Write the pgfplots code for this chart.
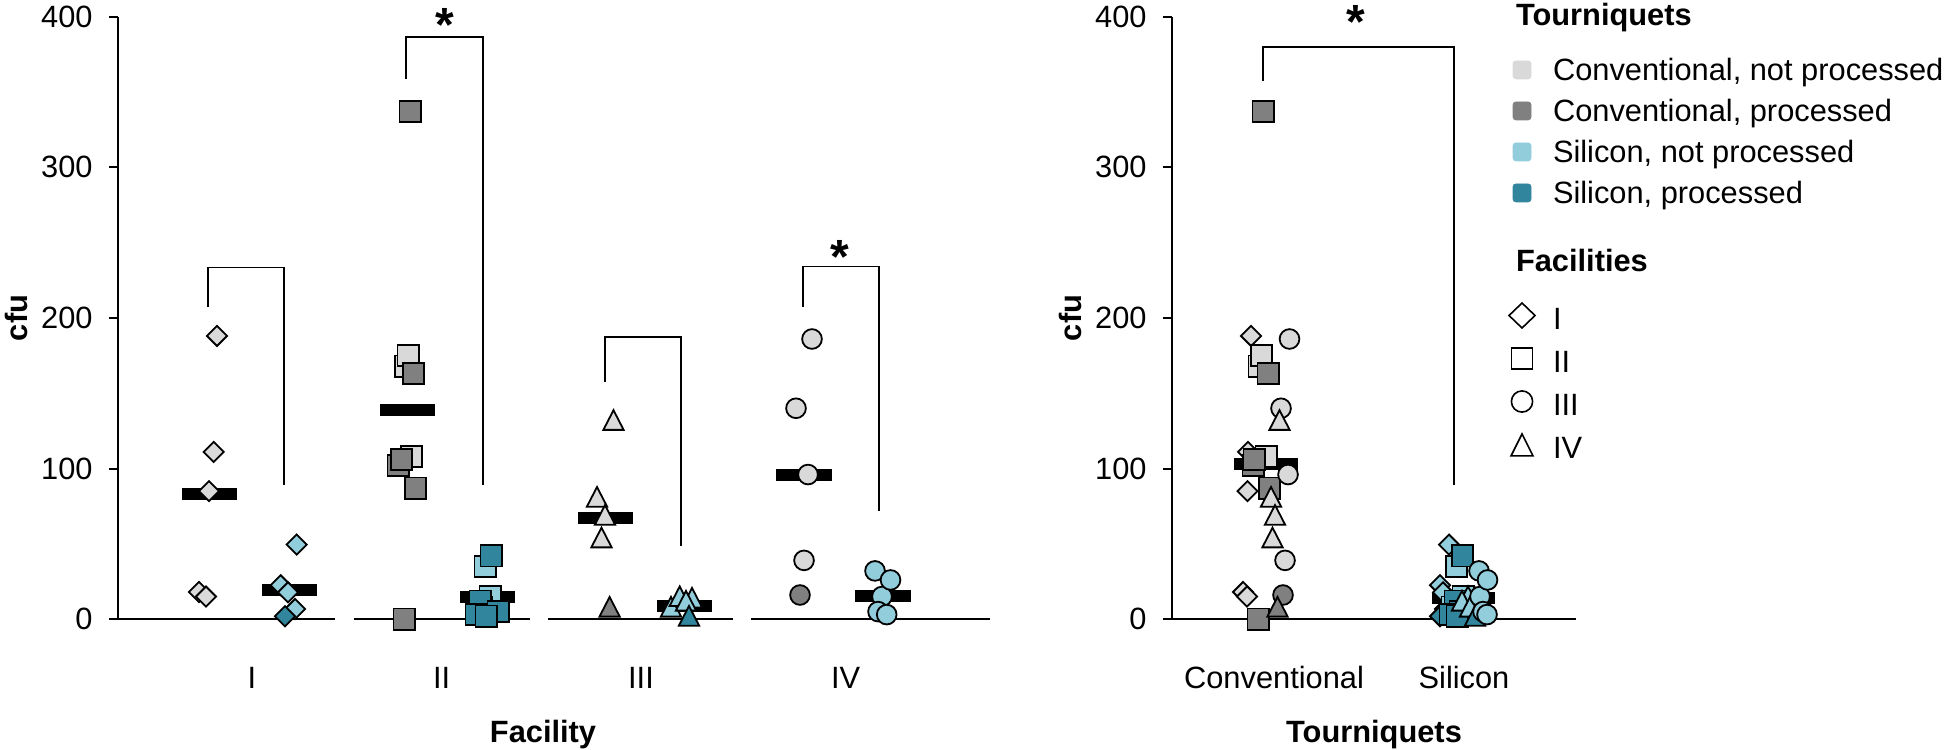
\documentclass[border=0pt]{standalone}
\usepackage{pgfplots}
\pgfplotsset{compat=1.18}
\usepackage{fontspec}
\setmainfont{Liberation Sans}
\definecolor{cLG}{HTML}{D9D9D9}
\definecolor{cDG}{HTML}{808080}
\definecolor{cLB}{HTML}{92CDDC}
\definecolor{cTE}{HTML}{31859C}
\newcommand\fs{\fontsize{15.4pt}{18pt}\selectfont}
\pgfplotsset{
 dia/.style={only marks, mark=square*, mark size=3.55pt, mark options={rotate=45, draw=black, line width=0.9pt, fill=#1}},
 sq/.style={only marks, mark=square*, mark size=5.3pt, mark options={draw=black, line width=0.9pt, fill=#1}},
 ci/.style={only marks, mark=*, mark size=4.93pt, mark options={draw=black, line width=0.9pt, fill=#1}},
 tri/.style={only marks, mark=triangle*, mark size=5.86pt, mark options={yscale=1.12, draw=black, line width=0.9pt, fill=#1}},
 med/.style={black, line width=6pt, line cap=butt, no marks},
 brk/.style={black, line width=0.9pt, no marks},
 base/.style={black, line width=1pt, no marks},
 panel/.style={
   x=0.5pt, y=0.753pt, ymin=0, ymax=400, clip=false,
   axis x line=bottom, axis y line=left,
   axis line style={-, line width=1pt, black},
   ytick={0,100,200,300,400}, tick align=outside, major tick length=4.5pt,
   ytick style={line width=1pt, black}, xtick style={draw=none},
   font=\fs, tick label style={font=\fs},
   /pgf/number format/assume math mode=true,
   yticklabel style={anchor=east, inner sep=0pt, xshift=-8pt},
   xticklabel style={anchor=base, inner sep=0pt, yshift=-30.2pt},
   ylabel={\bfseries cfu},
 },
 fill sq/.style={legend image code/.code={\path[draw=none,fill=none] (-7pt,-9pt) rectangle (7pt,9pt); \fill[#1, rounded corners=1.5pt] (-4.5pt,-4.5pt) rectangle (4.5pt,4.5pt);}},
}
\begin{document}
\begin{tikzpicture}
\useasboundingbox (0,0) rectangle (973pt,-374.5pt);
% ---------------- left panel ----------------
\begin{axis}[panel, xmin=118, xmax=990,
  at={(59pt,-309.55pt)}, anchor=south west,
  x axis line style={draw=none},
  xtick={252,441.7,641,845.6}, xticklabels={I,II,III,IV},
  xlabel={\bfseries Facility},
  xlabel style={at={(axis cs:543,0)}, anchor=base, inner sep=0pt, yshift=-61.45pt},
  ylabel style={at={(axis description cs:-0.11617,0.5)}, anchor=center},
]
\addplot[base] coordinates {(118,0) (335,0)};
\addplot[base] coordinates {(354,0) (530,0)};
\addplot[base] coordinates {(548,0) (733,0)};
\addplot[base] coordinates {(751,0) (990,0)};
% brackets
\addplot[brk] coordinates {(208,207) (208,233.5) (284,233.5) (284,89.2)};
\addplot[brk] coordinates {(406,358.8) (406,386.7) (482.6,386.7) (482.6,89.2)};
\addplot[brk] coordinates {(604.7,157.4) (604.7,187.5) (680.8,187.5) (680.8,48.6)};
\addplot[brk] coordinates {(802.9,207.2) (802.9,234.1) (878.6,234.1) (878.6,71.7)};
% Facility I
\addplot[dia=cLG] coordinates {(217,188) (213.7,111) (209,85) (199,18) (206,15)};
\addplot[dia=cLB] coordinates {(296.7,49.5) (280.7,22.5) (288,17.8) (295,6.7)};
\addplot[dia=cTE] coordinates {(285,1.9)};
% Facility II
\addplot[sq=cLG] coordinates {(405.6,168) (408,175) (411.7,108)};
\addplot[sq=cDG] coordinates {(410,337) (413.3,163) (398,102) (401.7,106) (415.7,87) (404,0)};
\addplot[sq=cLB] coordinates {(485,35) (490,15) (481,8)};
\addplot[sq=cTE] coordinates {(491,42) (480,12) (498,5) (476,3) (486,2)};
% Facility III
\addplot[tri=cLG] coordinates {(613.5,130) (597,79) (605,67) (601.5,52)};
\addplot[tri=cDG] coordinates {(609.6,6)};
\addplot[tri=cLB] coordinates {(671,6) (679.7,13) (692,12) (686,10)};
\addplot[tri=cTE] coordinates {(689,0)};
% Facility IV
\addplot[ci=cLG] coordinates {(812,186) (796,140) (808,96) (804,39)};
\addplot[ci=cDG] coordinates {(800,16)};
\addplot[ci=cLB] coordinates {(882,15) (875,32) (890.5,26) (878,5) (886.7,3)};
% medians
\addplot[med] coordinates {(182,83.4) (237,83.4)};
\addplot[med] coordinates {(261.7,19) (316.7,19)};
\addplot[med] coordinates {(380,138.9) (435.3,138.9)};
\addplot[med] coordinates {(459.8,14.6) (514.9,14.6)};
\addplot[med] coordinates {(578,66.9) (633,66.9)};
\addplot[med] coordinates {(657,8.9) (712,8.9)};
\addplot[med] coordinates {(776,95.5) (831.6,95.5)};
\addplot[med] coordinates {(855,15.5) (910.5,15.5)};
\node[font=\fontsize{24pt}{24pt}\bfseries\selectfont, inner sep=0pt, yshift=-4.7pt] at (axis cs:445,400.8) {*};
\node[font=\fontsize{24pt}{24pt}\bfseries\selectfont, inner sep=0pt, yshift=-4.7pt] at (axis cs:840,247) {*};
\end{axis}
% ---------------- right panel ----------------
\begin{axis}[panel, xmin=1172, xmax=1576,
  at={(586pt,-309.55pt)}, anchor=south west,
  xtick={1274,1464}, xticklabels={Conventional,Silicon},
  xlabel={\bfseries Tourniquets},
  xlabel style={at={(axis cs:1374,0)}, anchor=base, inner sep=0pt, yshift=-61.45pt},
  ylabel style={at={(axis description cs:-0.25074,0.5)}, anchor=center},
]
\addplot[brk] coordinates {(1263,357.2) (1263,380) (1454.3,380) (1454.3,89.2)};
% conventional
\addplot[dia=cLG] coordinates {(1251,188) (1248,111) (1247.5,85) (1243,18) (1247,15)};
\addplot[sq=cLG] coordinates {(1259,168) (1261.7,175) (1266,108)};
\addplot[sq=cDG] coordinates {(1263,337) (1268,163) (1253,102) (1254,106) (1269.5,87) (1258,0)};
\addplot[ci=cLG] coordinates {(1289.5,186) (1281,140) (1288,96) (1285,39)};
\addplot[ci=cDG] coordinates {(1283,16)};
\addplot[tri=cLG] coordinates {(1279.5,130) (1271,79) (1275,67) (1272.5,52)};
\addplot[tri=cDG] coordinates {(1277.5,6)};
% silicon
\addplot[dia=cLB] coordinates {(1449,49.5) (1440,22.5) (1443,17.8) (1445,6.7)};
\addplot[dia=cTE] coordinates {(1440,1.9)};
\addplot[sq=cLB] coordinates {(1456.7,35) (1463,15) (1452,8)};
\addplot[sq=cTE] coordinates {(1462.5,42) (1455,12) (1460,5) (1450,3) (1457,2)};
\addplot[tri=cLB] coordinates {(1468,13) (1475,12) (1462,10) (1470,6)};
\addplot[tri=cTE] coordinates {(1475,0)};
\addplot[ci=cLB] coordinates {(1480,15) (1479,32) (1487.5,26) (1483,5) (1487,3)};
\addplot[med] coordinates {(1234,102.8) (1298,102.8)};
\addplot[med] coordinates {(1432,14) (1495,14)};
\node[font=\fontsize{24pt}{24pt}\bfseries\selectfont, inner sep=0pt, yshift=-4.7pt] at (axis cs:1355.5,403) {*};
\end{axis}
% ---------------- legend ----------------
\begin{axis}[hide axis, scale only axis, width=10pt, height=10pt,
  xmin=0, xmax=1, ymin=0, ymax=1,
  at={(754pt,-0.5pt)}, anchor=south west,
  legend cell align=left,
  legend style={at={(0,0)}, anchor=north west, draw=none, fill=none,
    inner sep=0pt, outer sep=0pt, row sep=0pt, column sep=8.5pt,
    nodes={inner sep=0pt, outer sep=0pt}, font=\fs},
]
\addlegendimage{empty legend}
\addlegendentry[text height=12pt, text depth=12.2pt]{\hspace*{-18.5pt}\bfseries Tourniquets}
\addlegendimage{fill sq=cLG}
\addlegendentry[text height=15.75pt, text depth=4.75pt]{Conventional, not processed}
\addlegendimage{fill sq=cDG}
\addlegendentry[text height=15.75pt, text depth=4.75pt]{Conventional, processed}
\addlegendimage{fill sq=cLB}
\addlegendentry[text height=15.75pt, text depth=4.75pt]{Silicon, not processed}
\addlegendimage{fill sq=cTE}
\addlegendentry[text height=15.75pt, text depth=4.75pt]{Silicon, processed}
\addlegendimage{empty legend}
\addlegendentry[text height=28.95pt, text depth=13.05pt]{\hspace*{-18.5pt}\bfseries Facilities}
\addlegendimage{legend image code/.code={\path[draw=none,fill=none] (-7pt,-9pt) rectangle (7pt,9pt); \draw[black, line width=0.8pt, fill=white] (0,7.95pt) -- (6.5pt,1.7pt) -- (0,-4.55pt) -- (-6.5pt,1.7pt) -- cycle;}}
\addlegendentry[text height=16.25pt, text depth=5.25pt]{I}
\addlegendimage{legend image code/.code={\path[draw=none,fill=none] (-7pt,-9pt) rectangle (7pt,9pt); \draw[black, line width=0.8pt, fill=white] (-5.3pt,-3.6pt) rectangle (5.3pt,7pt);}}
\addlegendentry[text height=16.25pt, text depth=5.25pt]{II}
\addlegendimage{legend image code/.code={\path[draw=none,fill=none] (-7pt,-9pt) rectangle (7pt,9pt); \draw[black, line width=0.8pt, fill=white] (0,1.7pt) circle (5.3pt);}}
\addlegendentry[text height=16.25pt, text depth=5.25pt]{III}
\addlegendimage{legend image code/.code={\path[draw=none,fill=none] (-7pt,-9pt) rectangle (7pt,9pt); \draw[black, line width=0.8pt, fill=white] (0,7pt) -- (5.5pt,-4pt) -- (-5.5pt,-4pt) -- cycle;}}
\addlegendentry[text height=16.25pt, text depth=5.25pt]{IV}
\end{axis}
\end{tikzpicture}
\end{document}
